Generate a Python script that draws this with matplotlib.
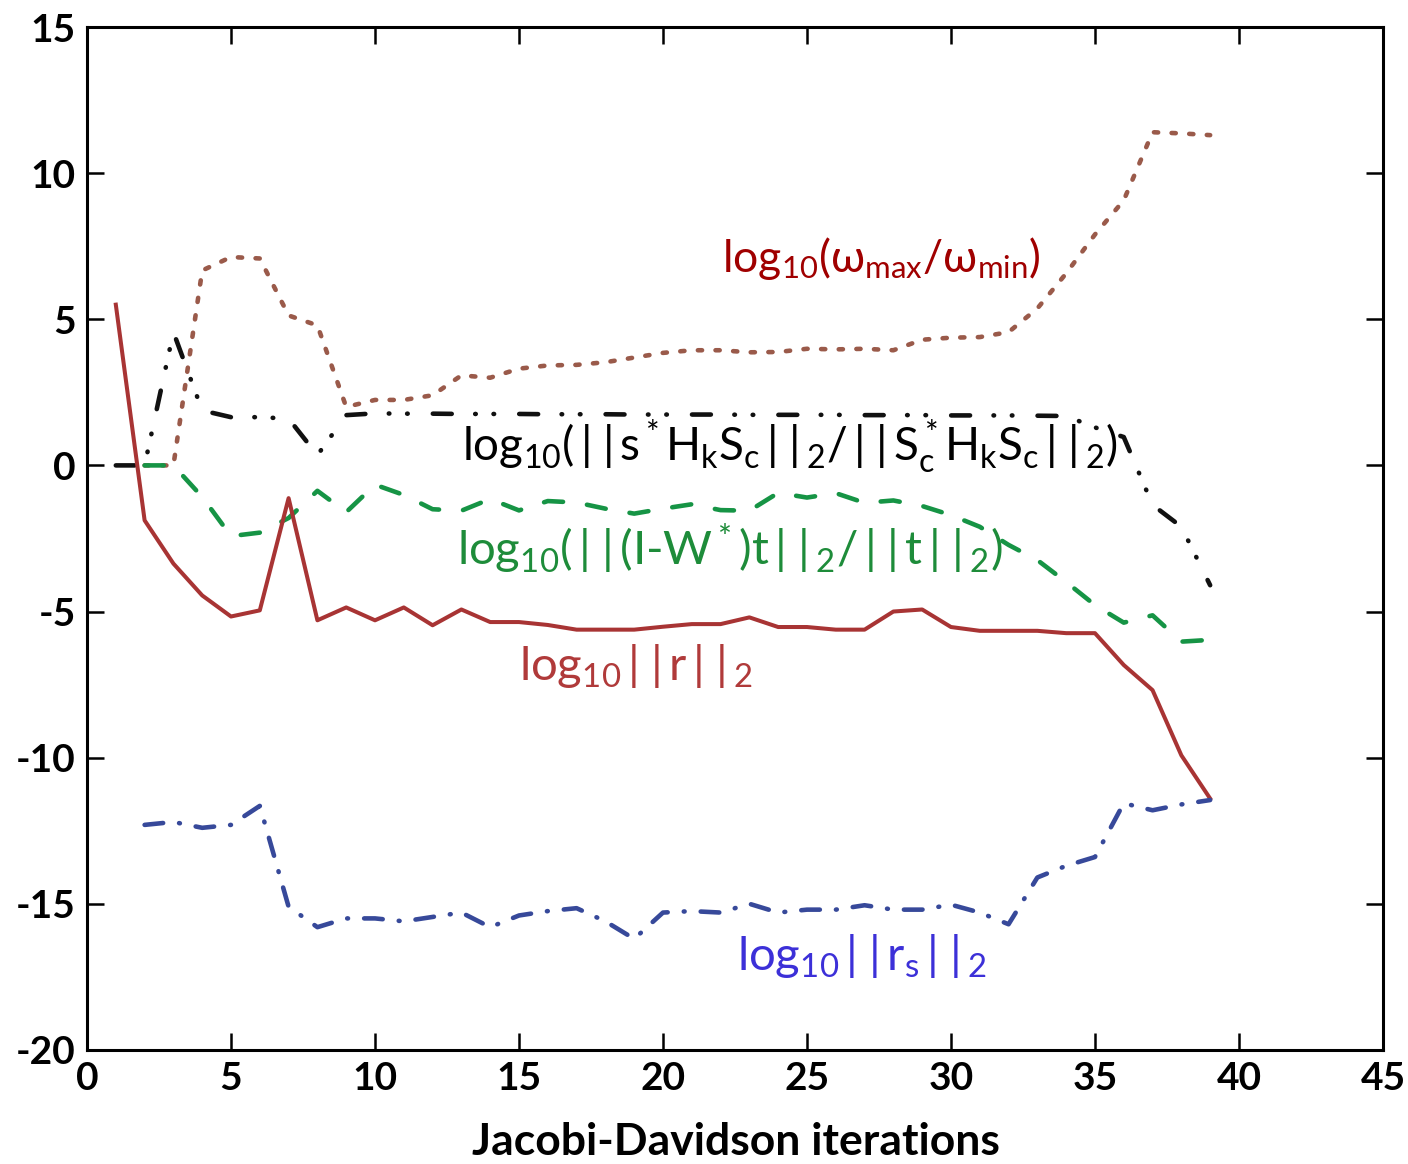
import numpy as np
import matplotlib
matplotlib.use("Agg")
import matplotlib.pyplot as plt

plt.rcParams['font.family'] = ['Lato', 'DejaVu Sans']
plt.rcParams['mathtext.fontset'] = 'custom'
plt.rcParams['mathtext.rm'] = 'Lato'
plt.rcParams['mathtext.it'] = 'Lato'
plt.rcParams['mathtext.bf'] = 'Lato:bold'
plt.rcParams['mathtext.fallback'] = 'stixsans'
plt.rcParams['lines.scale_dashes'] = False
plt.rcParams['axes.unicode_minus'] = False

# iterations 1..39
it_r = np.arange(1, 40)
log_r = [5.5, -1.88, -3.36, -4.45, -5.17, -4.96, -1.12, -5.3, -4.86, -5.3,
         -4.86, -5.47, -4.93, -5.36, -5.36, -5.46, -5.62, -5.62, -5.62, -5.52,
         -5.43, -5.43, -5.2, -5.53, -5.53, -5.62, -5.62, -5.0, -4.93, -5.53,
         -5.66, -5.66, -5.66, -5.74, -5.74, -6.83, -7.69, -9.92, -11.4]

it_s = np.arange(1, 40)
log_s = [0.0, 0.0, 4.56, 1.88, 1.65, 1.65, 1.6, 0.35, 1.72, 1.78,
         1.77, 1.77, 1.76, 1.76, 1.76, 1.75, 1.75, 1.75, 1.74, 1.74,
         1.74, 1.74, 1.73, 1.73, 1.73, 1.73, 1.72, 1.72, 1.72, 1.71,
         1.71, 1.71, 1.7, 1.69, 1.3, 0.97, -1.35, -2.1, -4.1]

# iterations 2..39
it_w = np.arange(2, 40)
log_w = [0.0, 0.0, 6.67, 7.13, 7.08, 5.13, 4.79, 2.0, 2.24, 2.24,
         2.4, 3.08, 3.0, 3.31, 3.42, 3.44, 3.53, 3.69, 3.85, 3.94,
         3.94, 3.87, 3.88, 3.99, 3.97, 3.99, 3.94, 4.3, 4.37, 4.39,
         4.56, 5.37, 6.57, 7.9, 9.07, 11.4, 11.36, 11.3]

it_t = np.arange(2, 40)
log_t = [0.0, 0.0, -1.08, -2.42, -2.3, -1.8, -0.87, -1.6, -0.66, -1.01,
         -1.5, -1.55, -1.15, -1.54, -1.22, -1.27, -1.48, -1.65, -1.48, -1.33,
         -1.53, -1.55, -0.94, -1.1, -0.95, -1.28, -1.2, -1.39, -1.7, -2.1,
         -2.72, -3.24, -3.99, -4.78, -5.38, -5.13, -6.03, -5.97]

it_rs = np.arange(2, 40)
log_rs = [-12.3, -12.2, -12.4, -12.3, -11.65, -15.1, -15.8, -15.5, -15.5, -15.6,
          -15.45, -15.3, -15.8, -15.4, -15.25, -15.15, -15.6, -16.2, -15.3, -15.25,
          -15.3, -15.0, -15.3, -15.2, -15.2, -15.05, -15.2, -15.2, -15.03, -15.3,
          -15.7, -14.1, -13.7, -13.4, -11.56, -11.8, -11.6, -11.45]

fig = plt.figure(figsize=(14.08, 11.64), dpi=100)
ax = fig.add_axes([0.0618, 0.098, 0.9204, 0.8788])

ax.plot(it_w, log_w, color='#9a5a4a', lw=3.3, dashes=(3, 9.7),
        dash_capstyle='round')
ax.plot(it_s, log_s, color='#111111', lw=3.3,
        dashes=(13.6, 16.9, 0.4, 12.8, 0.4, 18.1), dash_capstyle='round')
ax.plot(it_t, log_t, color='#169445', lw=3.3, dashes=(13.8, 17.4),
        dash_capstyle='round')
ax.plot(it_r, log_r, color='#a83434', lw=2.9)
ax.plot(it_rs, log_rs, color='#37499a', lw=3.3,
        dashes=(13.4, 11.6, 0.6, 11.6), dash_capstyle='round')

# double bars spaced like the original
nb = r'\,|\;|\,'
fs = 34
ax.text(22.05, 6.61, r'$\mathrm{log_{10}(\omega_{max}/\omega_{min})}$',
        color='#a00000', fontsize=32, ha='left', va='baseline')
ax.text(13.02, 0.12,
        r'$\mathrm{log_{10}(' + nb + r's^*H_kS_c' + nb + r'_2/' + nb +
        r'S_c^*H_kS_c' + nb + r'_2)}$',
        color='black', fontsize=33, ha='left', va='baseline')
ax.text(12.85, -3.41,
        r'$\mathrm{log_{10}(' + nb + r'(I\text{-}W^*)t' + nb + r'_2/' + nb +
        r't' + nb + r'_2)}$',
        color='#1e8c3a', fontsize=fs, ha='left', va='baseline')
ax.text(15.0, -7.34, r'$\mathrm{log_{10}' + nb + r'r' + nb + r'_2}$',
        color='#b03a3a', fontsize=fs, ha='left', va='baseline')
ax.text(22.57, -17.27, r'$\mathrm{log_{10}' + nb + r'r_s' + nb + r'_2}$',
        color='#3c30d8', fontsize=fs, ha='left', va='baseline')

ax.set_xlim(0, 45)
ax.set_ylim(-20, 15)
ax.set_xticks(np.arange(0, 46, 5))
ax.set_yticks(np.arange(-20, 16, 5))
ax.tick_params(direction='in', length=12, width=1.8, top=True, right=True,
               labelsize=28, pad=8)
for lab in ax.get_xticklabels() + ax.get_yticklabels():
    lab.set_fontweight('bold')
for sp in ax.spines.values():
    sp.set_linewidth(2.2)

fig.text(0.523, 0.008, 'Jacobi-Davidson iterations', fontsize=32,
         fontweight='bold', ha='center', va='baseline')

fig.savefig('out.png', dpi=100)
